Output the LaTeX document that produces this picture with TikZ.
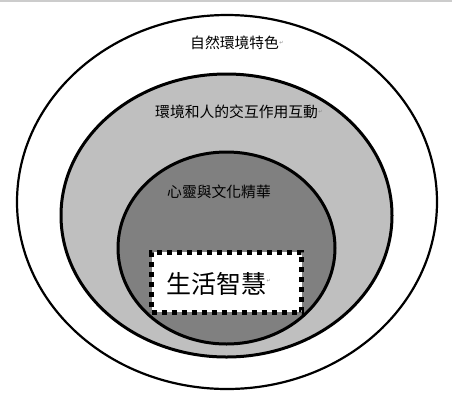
\documentclass[tikz,border=0pt]{standalone}
\usepackage{fontspec}
\newfontfamily\cjk{Noto Sans CJK TC}
\newfontfamily\djv{DejaVu Sans}
\begin{document}
\begin{tikzpicture}[x=1pt,y=-1pt,
  ring/.style={draw=black,line width=3pt},
  lbl/.style={font=\cjk\fontsize{14.8}{16}\selectfont,inner sep=0pt,anchor=west},
  ret/.style={font=\djv\fontsize{5}{6}\selectfont,text=gray,inner sep=0pt}]
\useasboundingbox (0,0) rectangle (452,400);
\fill[white] (0,0) rectangle (452,400);
\draw[gray!40,line width=1.5pt] (0,1) -- (452,1);
\draw[line width=2.2pt,fill=white] (227,202) ellipse [x radius=210, y radius=187];
\draw[ring,fill=gray!50] (226.5,215.5) ellipse [x radius=165.5, y radius=141.5];
\draw[ring,fill=gray] (226.5,248) ellipse [x radius=108.5, y radius=96];
\node[draw=black,fill=white,line width=5pt,dash pattern=on 5pt off 5pt,minimum width=150pt,minimum height=60pt,inner sep=0pt] (box) at (226.7,282) {};
\node[lbl] (t1) at (190,43) {自然環境特色};
\node[ret,anchor=west] at (t1.east) {↵};
\node[lbl] (t2) at (155,112) {環境和人的交互作用互動};
\node[ret,anchor=west] at (t2.east) {↵};
\node[lbl] (t3) at (167,192) {心靈與文化精華};
\node[lbl,font=\cjk\fontsize{25}{28}\selectfont] (t4) at (166,284) {生活智慧};
\node[ret,anchor=west] at ([yshift=3pt]t4.east) {↵};
\end{tikzpicture}
\end{document}
